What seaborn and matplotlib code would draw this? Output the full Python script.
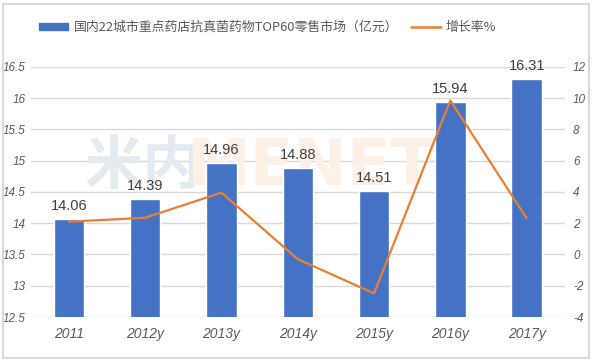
import matplotlib
matplotlib.use("Agg")
import matplotlib.pyplot as plt
import seaborn as sns
import numpy as np
import pandas as pd
from matplotlib.patches import Rectangle, Patch
from matplotlib.lines import Line2D

years = ["2011", "2012y", "2013y", "2014y", "2015y", "2016y", "2017y"]
sales = [14.06, 14.39, 14.96, 14.88, 14.51, 15.94, 16.31]
growth = [2.1, 2.35, 3.96, -0.3, -2.49, 9.86, 2.32]
left_ticks = [12.5, 13, 13.5, 14, 14.5, 15, 15.5, 16, 16.5]
right_ticks = [-4, -2, 0, 2, 4, 6, 8, 10, 12]
bar_label = "国内22城市重点药店抗真菌药物TOP60零售市场（亿元）"
line_label = "增长率%"

sns.set_theme(style="white")
plt.rcParams['font.family'] = ['Noto Sans CJK SC', 'DejaVu Sans']

BAR = "#4472C4"
LINE = "#ED7D31"
TXT = "#595959"
GRID = "#D9D9D9"

fig = plt.figure(figsize=(5.92, 3.62), dpi=100)
ax = fig.add_axes([0.052, 0.1243, 0.902, 0.6907])

df = pd.DataFrame({"year": years, "sales": sales, "growth": growth})

# faint watermark behind the bars
ax.text(0.10, 0.60, "米内", fontsize=42, fontweight="bold", color="#E3EBF1",
        ha="left", va="center", zorder=1, transform=ax.transAxes)
ax.text(0.29, 0.60, "MENET", fontsize=46, fontweight="bold", color="#FDF0E6",
        ha="left", va="center", zorder=1, transform=ax.transAxes,
        family="DejaVu Sans")

sns.barplot(data=df, x="year", y="sales", color=BAR, width=0.4, ax=ax,
            saturation=1, zorder=3)
ax.set_ylim(12.5, 16.5)
ax.set_yticks(left_ticks)
ax.set_yticklabels([f"{t:g}" for t in left_ticks])
ax.yaxis.grid(True, color=GRID, linewidth=1, zorder=0)
ax.set_axisbelow(True)
ax.patch.set_alpha(0)
for s in ax.spines.values():
    s.set_visible(False)
ax.set_xlabel("")
ax.set_ylabel("")
ax.tick_params(axis="both", length=0)
for lab in ax.get_yticklabels():
    lab.set_fontstyle("italic")
    lab.set_family("Liberation Sans")
    lab.set_color(TXT)
    lab.set_fontsize(8.5)
for lab in ax.get_xticklabels():
    lab.set_fontstyle("italic")
    lab.set_family("Liberation Sans")
    lab.set_color(TXT)
    lab.set_fontsize(10)
ax.tick_params(axis="x", pad=7)
ax.tick_params(axis="y", pad=4)

for i, v in enumerate(sales):
    ax.text(i, v + 0.1, f"{v:.2f}", ha="center", va="bottom", fontsize=10.5,
            color="#404040", family="Liberation Sans", zorder=5)

ax2 = ax.twinx()
sns.lineplot(x=np.arange(len(years)), y=growth, color=LINE, linewidth=1.6,
             ax=ax2, zorder=4)
ax2.set_ylim(-4, 12)
ax2.set_yticks(right_ticks)
ax2.set_yticklabels([f"{t:g}" for t in right_ticks])
for s in ax2.spines.values():
    s.set_visible(False)
ax2.tick_params(axis="y", length=0, pad=6)
ax2.set_ylabel("")
for lab in ax2.get_yticklabels():
    lab.set_fontstyle("italic")
    lab.set_family("Liberation Sans")
    lab.set_color(TXT)
    lab.set_fontsize(8.5)
ax.set_xlim(-0.5, len(years) - 0.5)

handles = [Patch(facecolor=BAR, edgecolor=BAR),
           Line2D([0], [0], color=LINE, linewidth=1.8)]
leg = fig.legend(handles, [bar_label, line_label], loc="center",
                 bbox_to_anchor=(0.452, 0.925), ncol=2, frameon=False,
                 fontsize=9.3, handlelength=2.3, handleheight=0.45,
                 columnspacing=1.0, handletextpad=0.4)
for t in leg.get_texts():
    t.set_color(TXT)

fig.patches.append(Rectangle((0.005, 0.01), 0.99, 0.98, transform=fig.transFigure,
                             fill=False, edgecolor=GRID, linewidth=1.5))

fig.savefig("out.png", dpi=100)
